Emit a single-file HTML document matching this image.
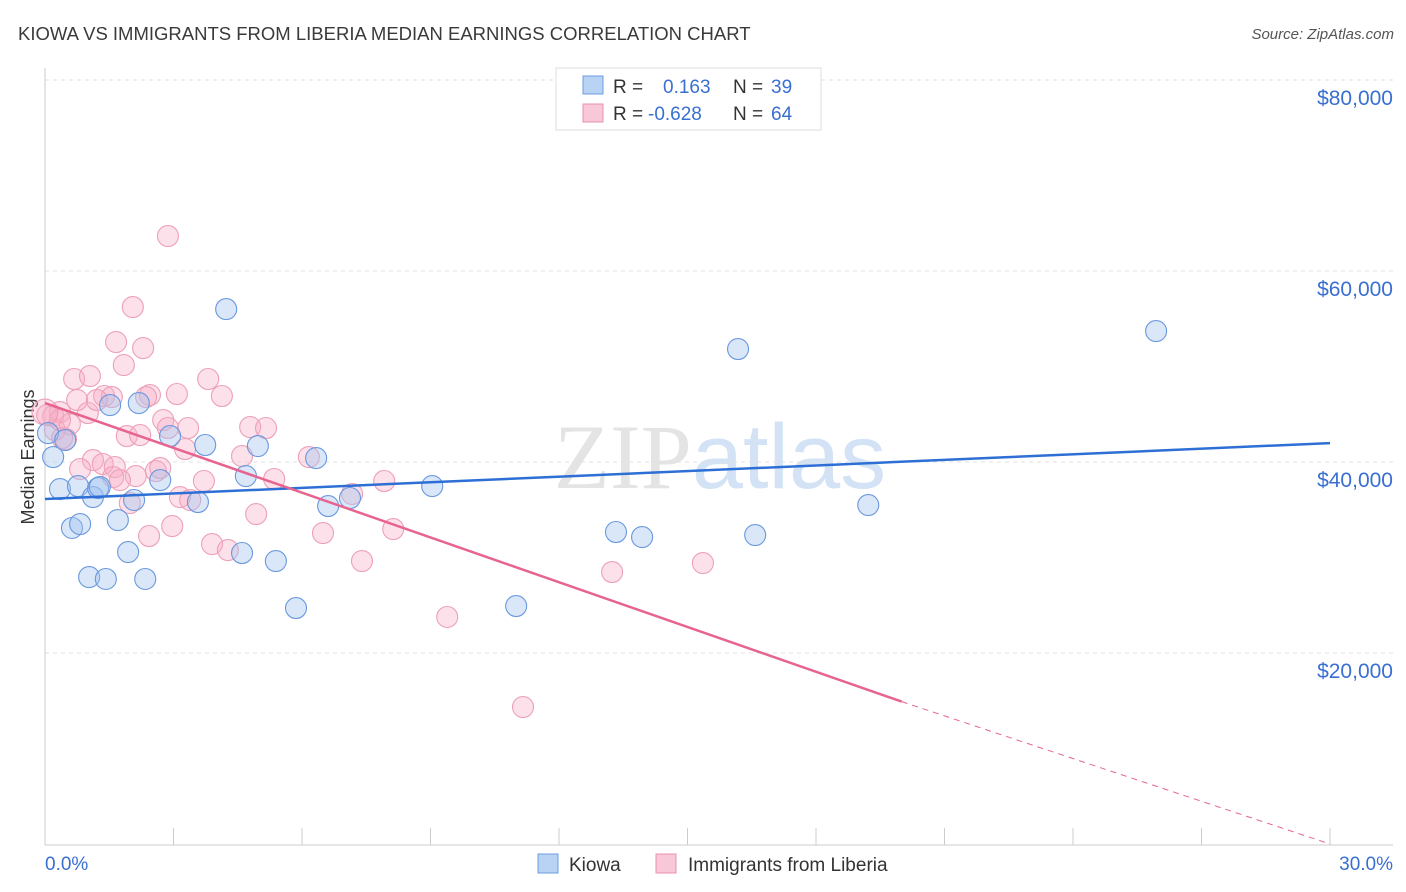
<!DOCTYPE html>
<html><head><meta charset="utf-8"><style>
body{margin:0;background:#fff;font-family:"Liberation Sans",sans-serif;}
#wrap{position:relative;width:1406px;height:892px;overflow:hidden;}
</style></head><body>
<div id="wrap">
<svg id="svg" width="1406" height="892" xmlns="http://www.w3.org/2000/svg">
<text x="18" y="40" font-size="18.5" fill="#3a3a3a">KIOWA VS IMMIGRANTS FROM LIBERIA MEDIAN EARNINGS CORRELATION CHART</text>
<text x="1394" y="39" font-size="15" fill="#555" font-style="italic" text-anchor="end">Source: ZipAtlas.com</text>
<text x="720" y="488" font-size="92" fill="#e4e4e4" text-anchor="middle" font-family="Liberation Serif,serif">ZIP<tspan fill="#d3e2f5" font-family="Liberation Sans,sans-serif">atlas</tspan></text>
<text transform="translate(34,457) rotate(-90)" font-size="18" fill="#333" text-anchor="middle">Median Earnings</text>
<g id="grid"></g><g id="axes"></g><g id="pts"></g><g id="lines"></g>
<g>
<rect x="556" y="68" width="265" height="62" fill="#fff" stroke="#ddd"/>
<rect x="583" y="76" width="20" height="18" fill="#b9d3f5" stroke="#6a9be0"/>
<rect x="583" y="104" width="20" height="18" fill="#f9c8d8" stroke="#e890aa"/>
<text x="613" y="93" font-size="19" fill="#333">R = </text><text x="663" y="93" font-size="19" fill="#3a6fd2">0.163</text>
<text x="733" y="93" font-size="19" fill="#333">N = </text><text x="771" y="93" font-size="19" fill="#3a6fd2">39</text>
<text x="613" y="120" font-size="19" fill="#333">R = </text><text x="648" y="120" font-size="19" fill="#3a6fd2">-0.628</text>
<text x="733" y="120" font-size="19" fill="#333">N = </text><text x="771" y="120" font-size="19" fill="#3a6fd2">64</text>
</g>
<g>
<rect x="538" y="854" width="20" height="19" fill="#b9d3f5" stroke="#6a9be0"/>
<text x="569" y="871" font-size="19" fill="#333">Kiowa</text>
<rect x="656" y="854" width="20" height="19" fill="#f9c8d8" stroke="#e890aa"/>
<text x="688" y="871" font-size="19" fill="#333">Immigrants from Liberia</text>
</g>
</svg>
</div>
<script>
const yTicks=[20000,40000,60000,80000];
const yTickLabels=["$20,000","$40,000","$60,000","$80,000"];
const xTicks=[0,3,6,9,12,15,18,21,24,27,30];
const kiowaX=[0.19,0.35,0.63,0.82,0.77,1.03,1.12,1.24,1.42,1.52,1.70,1.94,2.08,2.19,2.34,2.69,2.92,3.57,3.74,4.23,4.60,4.69,4.97,5.39,5.86,6.33,6.61,7.12,9.04,11.0,13.33,13.94,16.18,16.58,19.22,25.94,0.07,0.47,1.28];
const kiowaY=[40520,37170,33090,33500,37480,27950,36330,37270,27750,45960,33920,30570,36020,46170,27750,38110,42720,35810,41780,56010,30470,38530,41670,29630,24710,40410,35390,36230,37480,24920,32670,32140,51830,32350,35490,53710,43030,42300,37380];
const liberiaX=[2.87,2.05,1.66,2.29,1.84,0.68,1.05,3.81,1.38,2.45,2.36,3.08,4.13,0.75,1.00,0.35,0.19,0.05,0.58,2.76,2.87,3.34,4.79,5.16,1.91,2.22,0.49,3.27,4.60,1.12,0.82,1.35,1.63,2.59,2.69,1.59,2.12,3.71,5.35,7.92,6.16,3.15,3.39,7.17,1.98,4.93,2.97,8.13,6.49,2.43,3.90,4.27,7.40,13.24,15.36,9.39,11.16,0.23,0.35,0.0,1.56,1.75,1.21,0.40];
const liberiaY=[63660,56220,52560,51930,50150,48690,49000,48690,46910,47010,46800,47120,46910,46490,45130,45230,44810,44920,43970,44390,43560,43560,43660,43560,42720,42820,42400,41360,40620,40200,39260,39790,39470,39050,39370,38420,38530,38010,38220,38010,40520,36330,36020,36650,35700,34550,33290,32980,32560,32250,31410,30780,29630,28480,29420,23770,14340,43350,44390,45230,46800,38110,46490,42510];
const kiowaTrend=[36120,41980];
const liberiaTrend=[46170,-720];
const NS="http://www.w3.org/2000/svg";
const X0=45,X1=1330,Y0=844,PXY=191/20000;
function sx(v){return X0+(X1-X0)*v/30;}
function sy(v){return Y0-v*PXY;}
function mk(tag,attrs,parent){const e=document.createElementNS(NS,tag);for(const k in attrs)e.setAttribute(k,attrs[k]);parent.appendChild(e);return e;}
const grid=document.getElementById('grid'),axes=document.getElementById('axes'),pts=document.getElementById('pts'),lines=document.getElementById('lines');
yTicks.forEach((t,i)=>{
 const l=mk('line',{x1:X0,x2:1393,y1:sy(t),y2:sy(t),stroke:'#e2e2e2','stroke-dasharray':'4,4'},grid);
 
 
 const tx=mk('text',{x:1393,y:sy(t)+25,'font-size':21,fill:'#3a6fd2','text-anchor':'end'},axes);
 tx.textContent=yTickLabels[i];
 
 
});
const ax=mk('line',{x1:X0,x2:1393,y1:845,y2:845,stroke:'#ccc'},axes);


const ay=mk('line',{x1:X0,x2:X0,y1:68,y2:845,stroke:'#ccc'},axes);


xTicks.forEach(t=>{
 const l=mk('line',{x1:sx(t),x2:sx(t),y1:828,y2:845,stroke:'#ccc'},axes);
 
 
});
const xl=mk('text',{x:45,y:870,'font-size':19,fill:'#3a6fd2'},axes);xl.textContent='0.0%';


const xr=mk('text',{x:1393,y:870,'font-size':19,fill:'#3a6fd2','text-anchor':'end'},axes);xr.textContent='30.0%';


liberiaX.forEach((x,i)=>{
 const c=mk('circle',{cx:sx(x),cy:sy(liberiaY[i]),r:i==59?13:10.5,fill:'rgba(246,172,198,0.36)',stroke:'#eda0b8','stroke-width':1.1},pts);
 
 
});
kiowaX.forEach((x,i)=>{
 const c=mk('circle',{cx:sx(x),cy:sy(kiowaY[i]),r:10.5,fill:'rgba(160,196,240,0.4)',stroke:'#6a98de','stroke-width':1.1},pts);
 
 
});
const kl=mk('line',{x1:sx(0),y1:sy(kiowaTrend[0]),x2:sx(30),y2:sy(kiowaTrend[1]),stroke:'#2e6fd6','stroke-width':2.5},lines);


const lv=x=>liberiaTrend[0]+(liberiaTrend[1]-liberiaTrend[0])*x/30;
const ls=mk('line',{x1:sx(0),y1:sy(lv(0)),x2:sx(20),y2:sy(lv(20)),stroke:'#e7648f','stroke-width':2.5},lines);


const ld=mk('line',{x1:sx(20),y1:sy(lv(20)),x2:sx(30),y2:sy(Math.max(lv(30),0)),stroke:'#e7648f','stroke-width':1,'stroke-dasharray':'6,5'},lines);


</script>
</body></html>
